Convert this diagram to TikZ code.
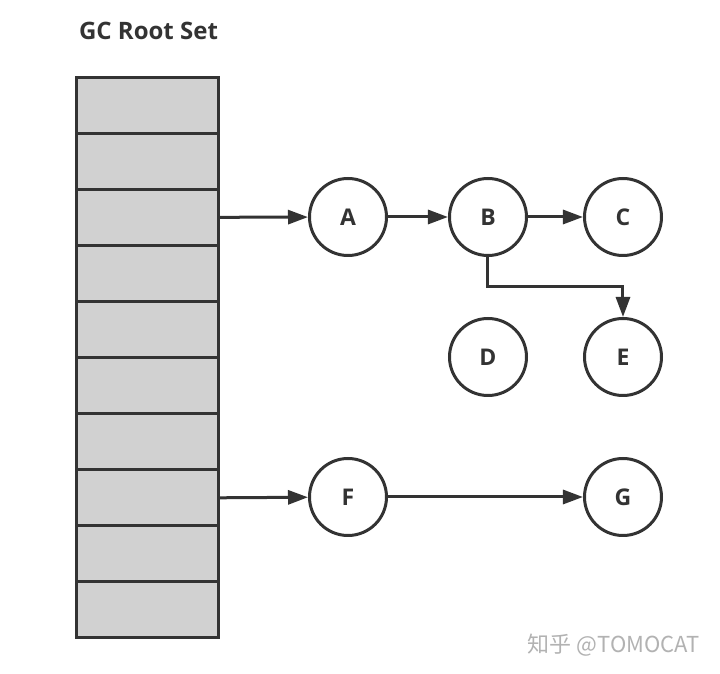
\documentclass[tikz,border=0pt]{standalone}
\usepackage{fontspec}
\setmainfont{Open Sans}
\newfontfamily\cjkfont{Noto Sans CJK SC}
\usepackage{tikz}
\usetikzlibrary{arrows.meta,positioning}
\definecolor{ink}{HTML}{333333}
\definecolor{slot}{HTML}{D1D1D1}

\begin{document}
\begin{tikzpicture}[
x=0.5pt, y=-0.5pt,
font=\normalfont,
root/.style={draw=ink, fill=slot, line width=1.5pt, rectangle, minimum width=71pt, minimum height=28pt, inner sep=0pt, outer sep=0pt},
obj/.style={draw=ink, line width=1.5pt, circle, minimum size=38.5pt, inner sep=0pt, text=ink, font=\fontsize{11.5}{13}\selectfont\bfseries},
ref/.style={-{Triangle[length=10pt,width=7pt]}, draw=ink, line width=1.5pt}
]
    \useasboundingbox (0,0) rectangle (720,674);

    % Root set
    \node[anchor=west, text=ink, font=\fontsize{12}{14}\selectfont\bfseries] (title) at (72,31) {GC Root Set};
    \foreach \i in {1,...,10}
        \node[root] (r\i) at (148, 49+56.1*\i) {};

    % Objects
    \node[obj] (A) at (348,217) {A};
    \node[obj] (B) at (488,217) {B};
    \node[obj] (C) at (623,217) {C};
    \node[obj] (D) at (488,357) {D};
    \node[obj] (E) at (623,357) {E};
    \node[obj] (F) at (348,497) {F};
    \node[obj] (G) at (623,497) {G};

    % References
    \coordinate (bend) at (488,287);
    \draw[ref] (r3.east) -- (A);
    \draw[ref] (A) -- (B);
    \draw[ref] (B) -- (C);
    \draw[ref] (B.south) -- (bend) -| (E.north);
    \draw[ref] (r8.east) -- (F);
    \draw[ref] (F) -- (G);

    \node[anchor=east, text=black!30, font=\cjkfont\fontsize{11}{13}\selectfont] (mark) at (707,645) {知乎 @TOMOCAT};
\end{tikzpicture}
\end{document}
